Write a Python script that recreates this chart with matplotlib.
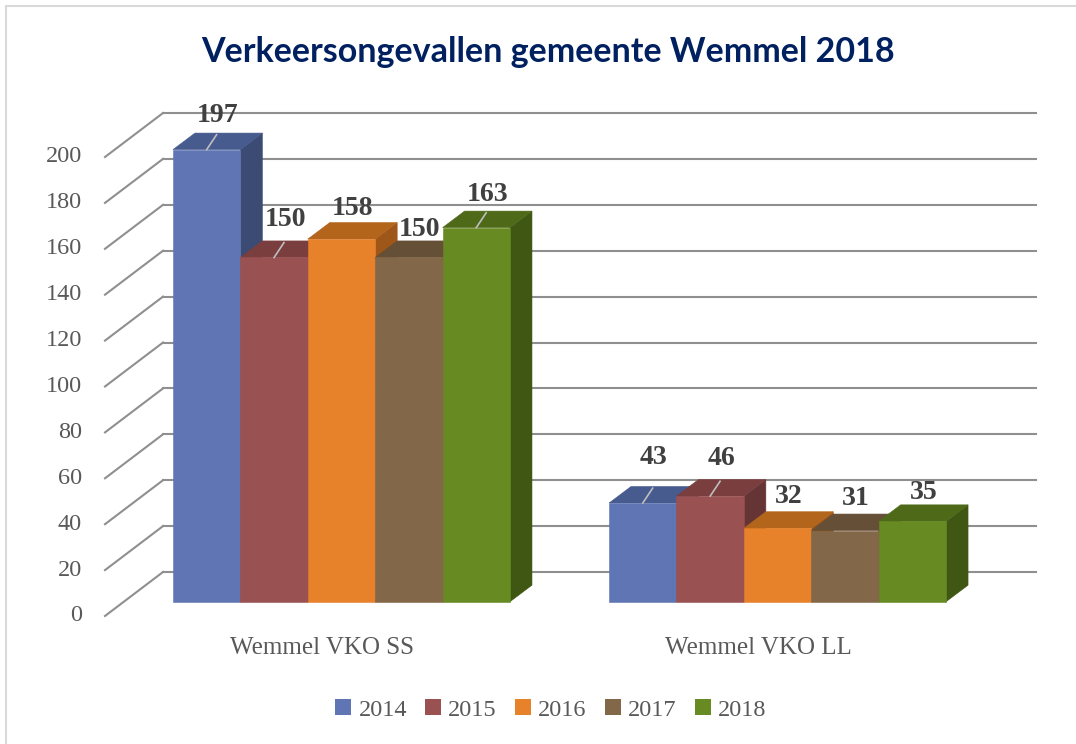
import matplotlib
matplotlib.use("Agg")
import matplotlib.pyplot as plt
from matplotlib.patches import Polygon, Patch, Rectangle

# data
categories = ["Wemmel VKO SS", "Wemmel VKO LL"]
years = ["2014", "2015", "2016", "2017", "2018"]
values = {
    "2014": [197, 43],
    "2015": [150, 46],
    "2016": [158, 32],
    "2017": [150, 31],
    "2018": [163, 35],
}
y_ticks = list(range(0, 201, 20))
title = "Verkeersongevallen gemeente Wemmel 2018"

# face colours: front, top, side
COLORS = {
    "2014": ("#6076B4", "#475B8F", "#3C4B73"),
    "2015": ("#9A5151", "#7A3E3E", "#653535"),
    "2016": ("#E8822A", "#B3651C", "#9E5718"),
    "2017": ("#836749", "#664F37", "#574330"),
    "2018": ("#678B22", "#4E6A19", "#3F5713"),
}
GRID = "#8F8F8F"
TXT = "#595959"
LBL = "#404040"

# layout (x in bar widths, y in counts)
GROUP_STEP = 6.47
DX, DY = 0.326, 7.2          # bar depth
TX, TY = -1.009, -6.23       # front (tick) plane of side wall
BX0, BX1, BY = -0.148, 12.80, 12.94   # back wall
LIFT = [[18, 21, 14, 11, 17], [29, 21, 15, 16, 12]]   # label lift, px
LEADER = [[1, 1, 0, 0, 1], [1, 1, 0, 0, 0]]
PX_PER_UNIT = 2.295

plt.rcParams["font.family"] = ["Liberation Serif", "DejaVu Serif"]
fig = plt.figure(figsize=(10.76, 7.44), dpi=100)
ax = fig.add_axes([0, 0, 1, 1])
ax.set_xlim(-173 / 67.4, (1076 - 173) / 67.4)
ax.set_ylim(-(744 - 601.7) / PX_PER_UNIT, 601.7 / PX_PER_UNIT)
ax.axis("off")

# walls: gridlines
for t in y_ticks:
    ax.plot([TX, BX0], [t + TY, t + BY], color=GRID, lw=1.5, zorder=1)
    ax.plot([BX0, BX1], [t + BY, t + BY], color=GRID, lw=1.5, zorder=1)
    ax.text(-1.35, t + TY, str(t), ha="right", va="center", fontsize=17.5, color=TXT)

# bars
z = 2
for g, cat in enumerate(categories):
    for i, yr in enumerate(years):
        v = values[yr][g]
        x0 = g * GROUP_STEP + i
        x1 = x0 + 1
        front, top, side = COLORS[yr]
        side_poly = [(x1, 0), (x1 + DX, DY), (x1 + DX, v + DY), (x1, v)]
        top_poly = [(x0, v), (x0 + DX, v + DY), (x1 + DX, v + DY), (x1, v)]
        front_poly = [(x0, 0), (x1, 0), (x1, v), (x0, v)]
        for poly, col in ((side_poly, side), (top_poly, top), (front_poly, front)):
            ax.add_patch(Polygon(poly, closed=True, fc=col, ec=col, lw=0.4, zorder=z))
        z += 1
        cx = x0 + 0.5
        if LEADER[g][i]:
            ax.plot([cx, cx + 0.45 * DX], [v, v + 0.9 * DY], color="#BFBFBF",
                    lw=1.2, zorder=50)
        ax.text(cx + 0.5 * DX, v + DY + LIFT[g][i] / PX_PER_UNIT, str(v),
                ha="center", va="center", fontsize=20, fontweight="bold",
                color=LBL, zorder=60)
    ax.text(g * GROUP_STEP + 2.5 + TX * 0.28, -20.2, cat, ha="center", va="center",
            fontsize=18, color=TXT)

fig.text(0.509, 0.930, title, ha="center", va="center", fontsize=24.5,
         fontweight="bold", color="#002060", family=["Lato", "DejaVu Sans"])

handles = [Patch(facecolor=COLORS[yr][0], edgecolor="none", label=yr) for yr in years]
fig.legend(handles=handles, loc="center", bbox_to_anchor=(0.512, 1 - 710 / 744),
           ncol=5, frameon=False, fontsize=17.5, handlelength=0.65, handleheight=0.65,
           handletextpad=0.3, columnspacing=0.75, labelcolor=TXT)

fig.patches.append(Rectangle((6 / 1076, -0.1), 1.2, 1.1 - 6 / 744 + 0.0,
                             transform=fig.transFigure, fill=False,
                             ec="#D9D9D9", lw=1.5))

fig.savefig("out.png", dpi=100)
